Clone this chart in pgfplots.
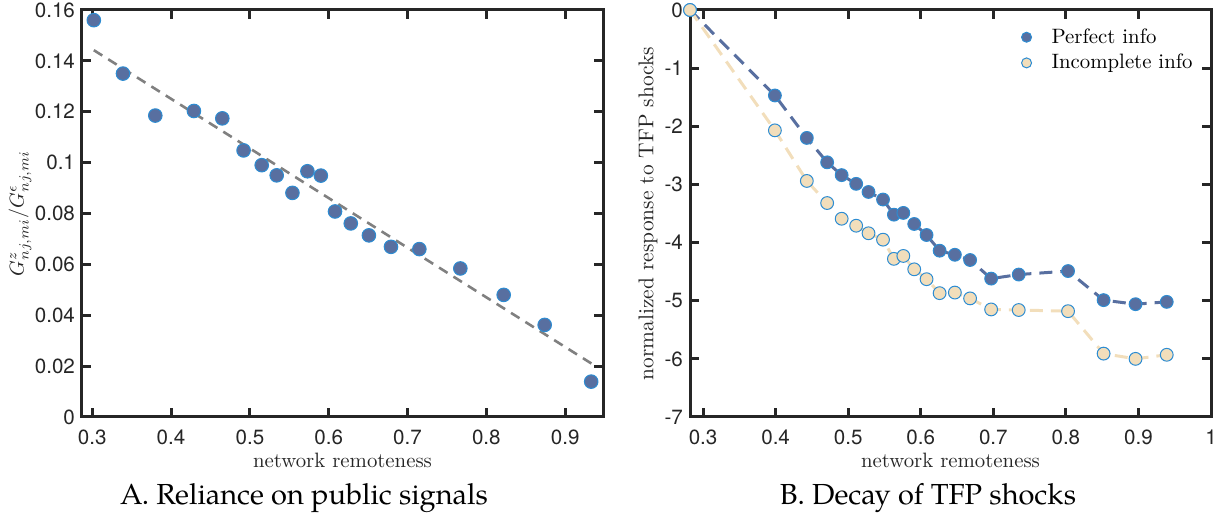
\documentclass[border=0pt]{standalone}
\usepackage{fontspec}
\usepackage{pgfplots}
\pgfplotsset{compat=1.18}
\newfontfamily\heros{TeX Gyre Heros}
\newfontfamily\pagella{TeX Gyre Pagella}
\definecolor{axc}{RGB}{38,38,38}
\definecolor{pblue}{RGB}{88,111,160}
\definecolor{pedge}{RGB}{45,140,210}
\definecolor{wheat}{RGB}{242,222,187}
\definecolor{fitgray}{RGB}{128,128,128}
\pgfplotsset{myax/.style={
  scale only axis, width=260.5pt, height=203.5pt,
  axis line style={axc, line width=1.5pt},
  every tick/.style={axc, line width=1.5pt},
  tick align=inside, major tick length=4.5pt,
  xtick pos=both, ytick pos=both,
  tick label style={font=\heros\fontsize{10.3}{12}\selectfont, text=axc},
  xticklabel style={yshift=-3pt},
  /pgf/number format/assume math mode=true,
  scaled ticks=false,
  xlabel style={font=\fontsize{10.4}{12}\selectfont, text=axc, at={(axis description cs:0.5,0)}, anchor=base, yshift=-25.5pt},
  clip=false,
}}
\begin{document}
\begin{tikzpicture}
\path[use as bounding box] (-41pt,-50.5pt) rectangle (569pt,208.5pt);
% ---------- Panel A ----------
\begin{axis}[myax, at={(0,0)}, anchor=south west,
  xmin=0.287, xmax=0.948, ymin=0, ymax=0.16,
  xtick={0.3,0.4,0.5,0.6,0.7,0.8,0.9},
  xticklabels={0.3,0.4,0.5,0.6,0.7,0.8,0.9},
  ytick={0,0.02,0.04,0.06,0.08,0.1,0.12,0.14,0.16},
  yticklabels={0,0.02,0.04,0.06,0.08,0.1,0.12,0.14,0.16},
  xlabel={network remoteness},
  ylabel={$G^{z}_{nj,mi}/G^{\epsilon}_{nj,mi}$},
  ylabel style={font=\fontsize{9.6}{12}\selectfont, text=axc, at={(axis description cs:0,0.5)}, anchor=center, yshift=31pt},
]
\addplot[fitgray, line width=1.3pt, dash pattern=on 5pt off 3.5pt] coordinates {(0.302,0.1442) (0.936,0.0205)};
\addplot[only marks, mark=*, mark size=3.4pt, mark options={fill=pblue, draw=pedge, line width=0.5pt}] coordinates {
(0.302,0.156) (0.339,0.135) (0.380,0.1185) (0.429,0.1203) (0.465,0.1174)
(0.492,0.1048) (0.515,0.0990) (0.534,0.0950) (0.554,0.0881) (0.573,0.0966)
(0.590,0.0949) (0.608,0.0808) (0.628,0.0761) (0.651,0.0714) (0.679,0.0669)
(0.715,0.0660) (0.767,0.0584) (0.822,0.0480) (0.874,0.0362) (0.933,0.0139)};
\end{axis}
\node[font=\pagella\fontsize{14.5}{16}\selectfont, anchor=base] at (111pt,-44pt) {A. Reliance on public signals};
% ---------- Panel B ----------
\begin{axis}[myax, at={(304pt,0)}, anchor=south west,
  xmin=0.282, xmax=1, ymin=-7, ymax=0,
  xtick={0.3,0.4,0.5,0.6,0.7,0.8,0.9,1},
  xticklabels={0.3,0.4,0.5,0.6,0.7,0.8,0.9,1},
  ytick={-7,-6,-5,-4,-3,-2,-1,0},
  yticklabels={-7,-6,-5,-4,-3,-2,-1,0},
  xlabel={network remoteness},
  ylabel={normalized response to TFP shocks},
  ylabel style={font=\fontsize{10.7}{12}\selectfont, text=axc, at={(axis description cs:0,0.5)}, anchor=center, yshift=21pt},
  legend style={at={(axis description cs:1,1)}, anchor=north east, xshift=-4pt, yshift=-5pt, draw=none, fill=none, font=\fontsize{10.4}{12}\selectfont, row sep=0pt},
  legend cell align=left,
  legend image code/.code={\path[draw=none] (0cm,0cm) -- (0.67cm,0cm); \draw[#1, mark size=2.5pt] plot coordinates {(0.3cm,0cm)};},
]
\addplot[pblue, line width=1.5pt, dash pattern=on 6.5pt off 4pt, forget plot] coordinates {
(0.282,0) (0.399,-1.47) (0.443,-2.20) (0.471,-2.62) (0.491,-2.84) (0.511,-2.99)
(0.528,-3.13) (0.548,-3.26) (0.563,-3.52) (0.576,-3.49) (0.591,-3.68) (0.608,-3.87)
(0.626,-4.14) (0.647,-4.21) (0.668,-4.30) (0.697,-4.62) (0.735,-4.55) (0.803,-4.49)
(0.852,-4.99) (0.896,-5.06) (0.939,-5.02)};
\addplot[only marks, mark=*, mark size=3.2pt, mark options={fill=pblue, draw=pedge, line width=0.5pt}] coordinates {
(0.282,0) (0.399,-1.47) (0.443,-2.20) (0.471,-2.62) (0.491,-2.84) (0.511,-2.99)
(0.528,-3.13) (0.548,-3.26) (0.563,-3.52) (0.576,-3.49) (0.591,-3.68) (0.608,-3.87)
(0.626,-4.14) (0.647,-4.21) (0.668,-4.30) (0.697,-4.62) (0.735,-4.55) (0.803,-4.49)
(0.852,-4.99) (0.896,-5.06) (0.939,-5.02)};
\addlegendentry{Perfect info}
\addplot[wheat, line width=1.5pt, dash pattern=on 6.5pt off 4pt, forget plot] coordinates {
(0.282,0) (0.399,-2.07) (0.443,-2.94) (0.471,-3.32) (0.491,-3.59) (0.511,-3.71)
(0.528,-3.84) (0.548,-3.95) (0.563,-4.28) (0.576,-4.23) (0.591,-4.46) (0.608,-4.63)
(0.626,-4.87) (0.647,-4.86) (0.668,-4.96) (0.697,-5.15) (0.735,-5.16) (0.803,-5.18)
(0.852,-5.91) (0.896,-6.00) (0.939,-5.93)};
\addplot[only marks, mark=*, mark size=3.2pt, mark options={fill=wheat, draw=pedge, line width=0.5pt}] coordinates {
(0.282,0) (0.399,-2.07) (0.443,-2.94) (0.471,-3.32) (0.491,-3.59) (0.511,-3.71)
(0.528,-3.84) (0.548,-3.95) (0.563,-4.28) (0.576,-4.23) (0.591,-4.46) (0.608,-4.63)
(0.626,-4.87) (0.647,-4.86) (0.668,-4.96) (0.697,-5.15) (0.735,-5.16) (0.803,-5.18)
(0.852,-5.91) (0.896,-6.00) (0.939,-5.93)};
\addlegendentry{Incomplete info}
\end{axis}
\node[font=\pagella\fontsize{14.5}{16}\selectfont, anchor=base] at (423pt,-44pt) {B. Decay of TFP shocks};
\end{tikzpicture}
\end{document}
